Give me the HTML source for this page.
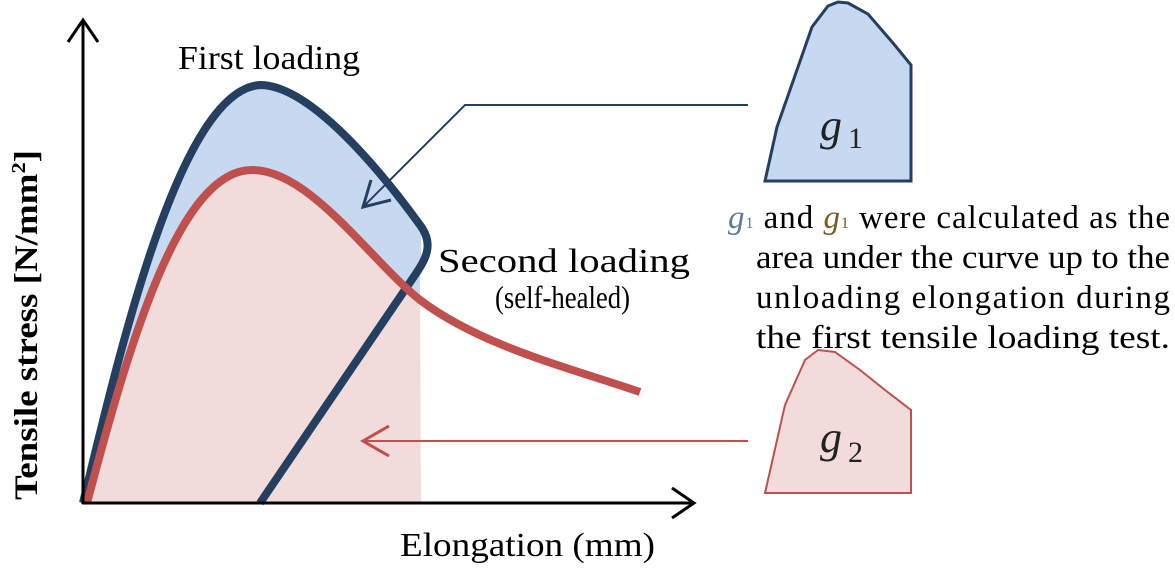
<!DOCTYPE html>
<html><head><style>
body{margin:0;background:#fff;}
svg text{font-family:"Liberation Serif",serif;}
</style></head><body>
<svg width="1175" height="564" viewBox="0 0 1175 564" xmlns="http://www.w3.org/2000/svg">
<defs>
<clipPath id="c"><rect x="83" y="0" width="338" height="503"/></clipPath>
</defs>
<g clip-path="url(#c)">
<path d="M83,503 C120,350 180,90 260,85 C310,85 380,170 420,225 C435,245 425,260 415,275 L420,275 L420,503 Z" fill="#c6d9f0"/>
<path d="M87,503 C130,340 180,170 252,170 C310,170 370,260 420,300 L421,503 Z" fill="#f2dcdb"/>
</g>
<path d="M83,503 C120,350 180,90 260,85 C310,85 380,170 420,225 C435,245 425,260 415,275 L260,503" fill="none" stroke="#243f60" stroke-width="8"/>
<path d="M87,503 C130,340 180,170 252,170 C310,170 370,260 420,300 C480,345 560,365 640,392" fill="none" stroke="#c0504d" stroke-width="8"/>
<line x1="83" y1="22" x2="83" y2="504" stroke="#000" stroke-width="3"/>
<polyline points="68,42 83,20 98,42" fill="none" stroke="#000" stroke-width="3"/>
<line x1="82" y1="503" x2="694" y2="503" stroke="#000" stroke-width="3"/>
<polyline points="672,488 694,503 672,518" fill="none" stroke="#000" stroke-width="3"/>
<polyline points="748,105 465,105 363,207" fill="none" stroke="#243f60" stroke-width="2"/>
<polyline points="371,180 363,207 391,200" fill="none" stroke="#243f60" stroke-width="3"/>
<line x1="748" y1="441" x2="363" y2="441" stroke="#c0504d" stroke-width="2"/>
<polyline points="389,426 363,441 389,456" fill="none" stroke="#c0504d" stroke-width="3"/>
<path d="M765,181 L777,127 L812,27 L828,6 L838,2 L848,3 L868,14 L893,43 L911,65 L911,181 Z" fill="#c6d9f0" stroke="#243f60" stroke-width="3"/>
<text x="820" y="140" font-size="44" font-style="italic" fill="#222">g</text><text x="848" y="148" font-size="30" fill="#222">1</text>
<path d="M765,493 L785,405 L805,360 L818,350 L835,352 L860,370 L885,390 L911,410 L911,493 Z" fill="#f2dcdb" stroke="#c0504d" stroke-width="2"/>
<text x="820" y="452" font-size="44" font-style="italic" fill="#222">g</text><text x="848" y="462" font-size="30" fill="#222">2</text>
<text x="178" y="69" font-size="34" textLength="182" lengthAdjust="spacingAndGlyphs">First loading</text>
<text x="438" y="272" font-size="34" textLength="252" lengthAdjust="spacingAndGlyphs">Second loading</text>
<text x="495" y="308" font-size="32" textLength="135" lengthAdjust="spacingAndGlyphs">(self-healed)</text>
<text x="728" y="228" font-size="33" textLength="442" lengthAdjust="spacing"><tspan font-style="italic" fill="#5a7aa0">g</tspan><tspan font-size="16" fill="#5a7aa0">1</tspan> and <tspan font-style="italic" fill="#7a5a20">g</tspan><tspan font-size="16" fill="#7a5a20">1</tspan> were calculated as the</text>
<text x="756" y="268" font-size="33" textLength="414" lengthAdjust="spacingAndGlyphs">area under the curve up to the</text>
<text x="756" y="308" font-size="33" textLength="414" lengthAdjust="spacing">unloading elongation during</text>
<text x="756" y="348" font-size="33" textLength="414" lengthAdjust="spacingAndGlyphs">the first tensile loading test.</text>
<text x="400" y="556" font-size="34" textLength="255" lengthAdjust="spacingAndGlyphs">Elongation (mm)</text>
<text transform="translate(37,500) rotate(-90)" font-size="33" font-weight="bold" textLength="350" lengthAdjust="spacingAndGlyphs">Tensile stress [N/mm<tspan font-size="20" dy="-12">2</tspan><tspan dy="12">]</tspan></text>
</svg>
</body></html>
